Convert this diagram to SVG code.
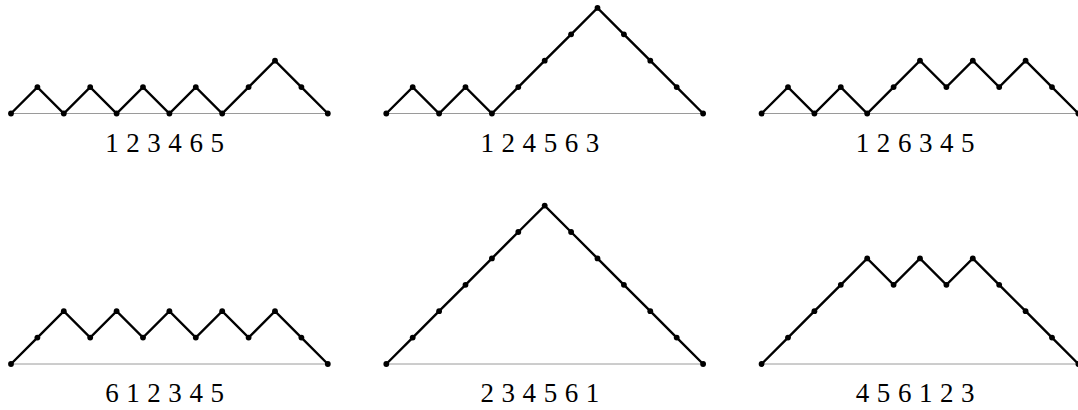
<svg xmlns="http://www.w3.org/2000/svg" width="1078" height="410" viewBox="0 0 1078 410">
<style>
.base{stroke:#9a9a9a;stroke-width:1;fill:none}
.path{stroke:#000;stroke-width:2.4;fill:none;stroke-linejoin:miter}
.dot{fill:#000}
.lbl{font-family:"Liberation Serif","Times New Roman",serif;font-size:27px;word-spacing:0.8px;fill:#000;text-anchor:middle}
</style>
<defs><circle id="d" r="2.9" class="dot"/></defs>
<g id="connectors">
<line class="base" x1="11" y1="113.5" x2="327.8" y2="113.5"/>
<line class="base" x1="386.3" y1="113.5" x2="703.1" y2="113.5"/>
<line class="base" x1="761.6" y1="113.5" x2="1078.4" y2="113.5"/>
<line class="base" x1="11" y1="364" x2="327.8" y2="364"/>
<line class="base" x1="386.3" y1="364" x2="703.1" y2="364"/>
<line class="base" x1="761.6" y1="364" x2="1078.4" y2="364"/>
</g>
<g id="path1">
<polyline class="path" points="11,113.5 37.4,87.1 63.8,113.5 90.2,87.1 116.6,113.5 143,87.1 169.4,113.5 195.8,87.1 222.2,113.5 248.6,87.1 275,60.7 301.4,87.1 327.8,113.5"/>
<use href="#d" x="11" y="113.5"/><use href="#d" x="37.4" y="87.1"/><use href="#d" x="63.8" y="113.5"/><use href="#d" x="90.2" y="87.1"/><use href="#d" x="116.6" y="113.5"/><use href="#d" x="143" y="87.1"/><use href="#d" x="169.4" y="113.5"/><use href="#d" x="195.8" y="87.1"/><use href="#d" x="222.2" y="113.5"/><use href="#d" x="248.6" y="87.1"/><use href="#d" x="275" y="60.7"/><use href="#d" x="301.4" y="87.1"/><use href="#d" x="327.8" y="113.5"/>
<text class="lbl" x="164.6" y="152">1 2 3 4 6 5</text>
</g>
<g id="path2">
<polyline class="path" points="386.3,113.5 412.7,87.1 439.1,113.5 465.5,87.1 491.9,113.5 518.3,87.1 544.7,60.7 571.1,34.3 597.5,7.9 623.9,34.3 650.3,60.7 676.7,87.1 703.1,113.5"/>
<use href="#d" x="386.3" y="113.5"/><use href="#d" x="412.7" y="87.1"/><use href="#d" x="439.1" y="113.5"/><use href="#d" x="465.5" y="87.1"/><use href="#d" x="491.9" y="113.5"/><use href="#d" x="518.3" y="87.1"/><use href="#d" x="544.7" y="60.7"/><use href="#d" x="571.1" y="34.3"/><use href="#d" x="597.5" y="7.9"/><use href="#d" x="623.9" y="34.3"/><use href="#d" x="650.3" y="60.7"/><use href="#d" x="676.7" y="87.1"/><use href="#d" x="703.1" y="113.5"/>
<text class="lbl" x="539.9" y="152">1 2 4 5 6 3</text>
</g>
<g id="path3">
<polyline class="path" points="761.6,113.5 788,87.1 814.4,113.5 840.8,87.1 867.2,113.5 893.6,87.1 920,60.7 946.4,87.1 972.8,60.7 999.2,87.1 1025.6,60.7 1052,87.1 1078.4,113.5"/>
<use href="#d" x="761.6" y="113.5"/><use href="#d" x="788" y="87.1"/><use href="#d" x="814.4" y="113.5"/><use href="#d" x="840.8" y="87.1"/><use href="#d" x="867.2" y="113.5"/><use href="#d" x="893.6" y="87.1"/><use href="#d" x="920" y="60.7"/><use href="#d" x="946.4" y="87.1"/><use href="#d" x="972.8" y="60.7"/><use href="#d" x="999.2" y="87.1"/><use href="#d" x="1025.6" y="60.7"/><use href="#d" x="1052" y="87.1"/><use href="#d" x="1078.4" y="113.5"/>
<text class="lbl" x="915.2" y="152">1 2 6 3 4 5</text>
</g>
<g id="path4">
<polyline class="path" points="11,364 37.4,337.6 63.8,311.2 90.2,337.6 116.6,311.2 143,337.6 169.4,311.2 195.8,337.6 222.2,311.2 248.6,337.6 275,311.2 301.4,337.6 327.8,364"/>
<use href="#d" x="11" y="364"/><use href="#d" x="37.4" y="337.6"/><use href="#d" x="63.8" y="311.2"/><use href="#d" x="90.2" y="337.6"/><use href="#d" x="116.6" y="311.2"/><use href="#d" x="143" y="337.6"/><use href="#d" x="169.4" y="311.2"/><use href="#d" x="195.8" y="337.6"/><use href="#d" x="222.2" y="311.2"/><use href="#d" x="248.6" y="337.6"/><use href="#d" x="275" y="311.2"/><use href="#d" x="301.4" y="337.6"/><use href="#d" x="327.8" y="364"/>
<text class="lbl" x="164.6" y="402">6 1 2 3 4 5</text>
</g>
<g id="path5">
<polyline class="path" points="386.3,364 412.7,337.6 439.1,311.2 465.5,284.8 491.9,258.4 518.3,232 544.7,205.6 571.1,232 597.5,258.4 623.9,284.8 650.3,311.2 676.7,337.6 703.1,364"/>
<use href="#d" x="386.3" y="364"/><use href="#d" x="412.7" y="337.6"/><use href="#d" x="439.1" y="311.2"/><use href="#d" x="465.5" y="284.8"/><use href="#d" x="491.9" y="258.4"/><use href="#d" x="518.3" y="232"/><use href="#d" x="544.7" y="205.6"/><use href="#d" x="571.1" y="232"/><use href="#d" x="597.5" y="258.4"/><use href="#d" x="623.9" y="284.8"/><use href="#d" x="650.3" y="311.2"/><use href="#d" x="676.7" y="337.6"/><use href="#d" x="703.1" y="364"/>
<text class="lbl" x="539.9" y="402">2 3 4 5 6 1</text>
</g>
<g id="path6">
<polyline class="path" points="761.6,364 788,337.6 814.4,311.2 840.8,284.8 867.2,258.4 893.6,284.8 920,258.4 946.4,284.8 972.8,258.4 999.2,284.8 1025.6,311.2 1052,337.6 1078.4,364"/>
<use href="#d" x="761.6" y="364"/><use href="#d" x="788" y="337.6"/><use href="#d" x="814.4" y="311.2"/><use href="#d" x="840.8" y="284.8"/><use href="#d" x="867.2" y="258.4"/><use href="#d" x="893.6" y="284.8"/><use href="#d" x="920" y="258.4"/><use href="#d" x="946.4" y="284.8"/><use href="#d" x="972.8" y="258.4"/><use href="#d" x="999.2" y="284.8"/><use href="#d" x="1025.6" y="311.2"/><use href="#d" x="1052" y="337.6"/><use href="#d" x="1078.4" y="364"/>
<text class="lbl" x="915.2" y="402">4 5 6 1 2 3</text>
</g>
</svg>
